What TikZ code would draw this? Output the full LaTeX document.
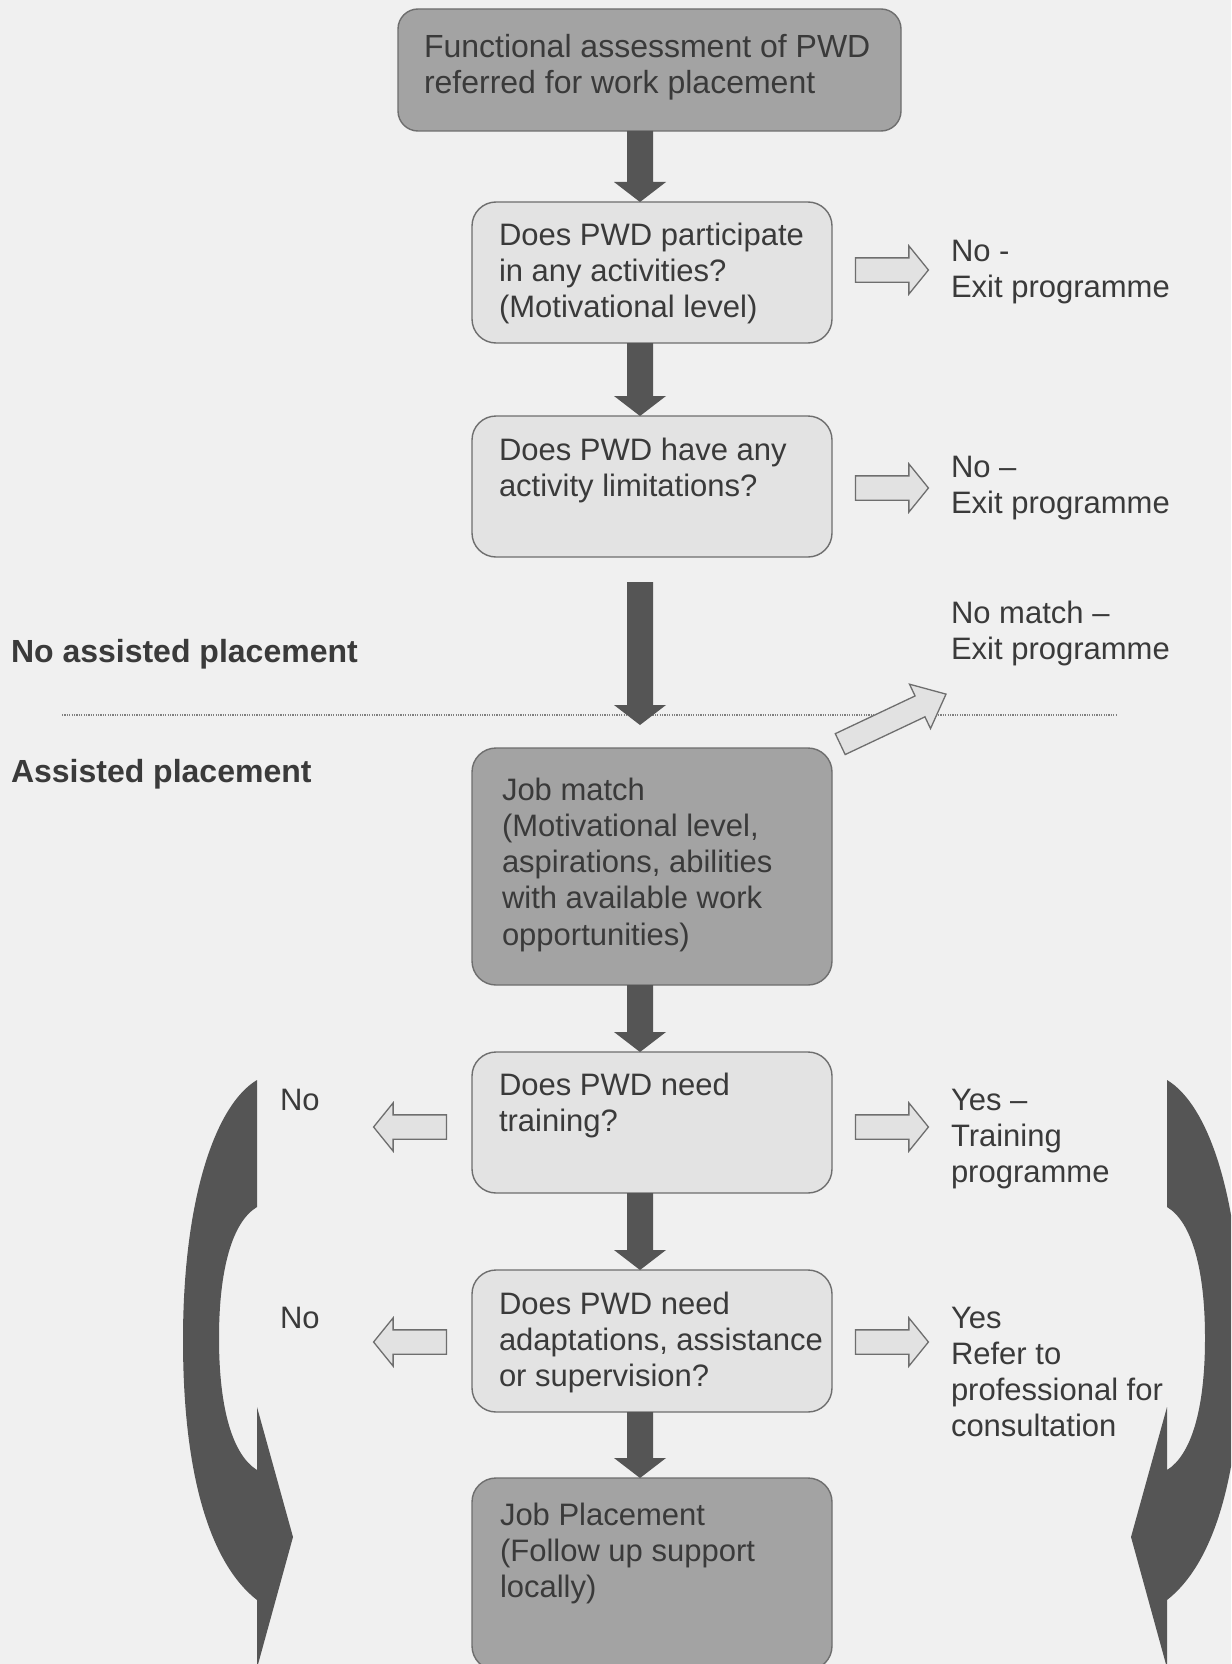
\documentclass[tikz,border=0pt]{standalone}
\usepackage{fontspec}
\setmainfont{Liberation Sans}
\usetikzlibrary{shapes.arrows,calc}
\definecolor{bgcol}{HTML}{F0F0F0}
\definecolor{darkfill}{HTML}{A3A3A3}
\definecolor{lightfill}{HTML}{E3E3E3}
\definecolor{bordercol}{HTML}{6E6E6E}
\definecolor{arrdark}{HTML}{555555}
\definecolor{txtcol}{HTML}{3A3A3A}
\definecolor{hollowfill}{HTML}{E2E2E2}
\definecolor{dotcol}{HTML}{808080}
\newcommand\ts{\rule{0pt}{23pt}}
\newcommand\blkarrow[2]{\fill[arrdark] let \p1=#1, \p2=#2 in
  (627pt,\y1) -- (653pt,\y1) -- (653pt,\y2+20pt) -- (666pt,\y2+20pt) --
  (640pt,\y2) -- (614pt,\y2+20pt) -- (627pt,\y2+20pt) -- cycle;}
\begin{document}
\begin{tikzpicture}[x=1pt,y=-1pt,
  boxbase/.style={draw=bordercol, line width=1.4pt, rounded corners=24pt,
    anchor=north west, inner sep=0pt, outer sep=0pt, minimum width=360pt},
  darkbox/.style={boxbase, fill=darkfill},
  lightbox/.style={boxbase, fill=lightfill},
  txt/.style={anchor=north west, inner sep=0pt, outer sep=0pt, align=left,
    text=txtcol, font=\fontsize{31}{36.3}\selectfont},
  headtxt/.style={txt, font=\fontsize{32}{36.3}\selectfont\bfseries},
  hollow/.style={single arrow, draw=bordercol, fill=hollowfill, line width=1.3pt,
    minimum height=73pt, minimum width=0pt, single arrow head extend=12pt,
    single arrow tip angle=102, inner xsep=0pt, inner ysep=11.5pt, outer sep=0pt},
  dotline/.style={draw=dotcol, line width=1.5pt, dash pattern=on 1.2pt off 1.2pt}
]
\useasboundingbox (0,0) rectangle (1231,1664);
\clip (0,0) rectangle (1231,1664);
\fill[bgcol] (0,0) rectangle (1231,1664);

% separator line
\coordinate (dl1) at (62,715);
\coordinate (dl2) at (1117,715);
\draw[dotline] (dl1) -- (dl2);

% boxes
\node[darkbox, minimum width=503pt, minimum height=122pt, rounded corners=20pt] (b1) at (398,9) {};
\node[lightbox, minimum height=141pt] (b2) at (472,202) {};
\node[lightbox, minimum height=141pt] (b3) at (472,416) {};
\node[darkbox, minimum height=237pt] (b4) at (472,748) {};
\node[lightbox, minimum height=141pt] (b5) at (472,1052) {};
\node[lightbox, minimum height=142pt] (b6) at (472,1270) {};
\node[darkbox, minimum height=192pt] (b7) at (472,1478) {};

% dark block arrows
\coordinate (a3s) at (640,582);
\coordinate (a3e) at (640,725);
\blkarrow{(b1.south)}{(b2.north)}
\blkarrow{(b2.south)}{(b3.north)}
\blkarrow{(a3s)}{(a3e)}
\blkarrow{(b4.south)}{(b5.north)}
\blkarrow{(b5.south)}{(b6.north)}
\blkarrow{(b6.south)}{(b7.north)}

% hollow arrows
\node[hollow] (r2) at (887,270) {};
\node[hollow] (r3) at (887,488) {};
\node[hollow] (r5) at (887,1127) {};
\node[hollow] (r6) at (887,1342) {};
\node[hollow, shape border rotate=180] (l5) at (415,1127) {};
\node[hollow, shape border rotate=180] (l6) at (415,1342) {};
\node[hollow, rotate=25.3, minimum height=117pt, inner ysep=10.9pt,
  single arrow head extend=13pt, single arrow tip angle=81] (dg) at (887,722) {};

% curved arrows
\fill[arrdark] (257,1080) .. controls (215,1105) and (183,1200) .. (183,1340)
  .. controls (183,1480) and (212,1565) .. (257,1600) -- (257,1668) -- (293,1537)
  -- (257,1407) -- (257,1470) .. controls (233,1455) and (219,1410) .. (219,1338)
  .. controls (219,1270) and (232,1222) .. (257,1207) -- cycle;
\begin{scope}[shift={(1424,0)}, xscale=-1]
\fill[arrdark] (257,1080) .. controls (215,1105) and (183,1200) .. (183,1340)
  .. controls (183,1480) and (212,1565) .. (257,1600) -- (257,1668) -- (293,1537)
  -- (257,1407) -- (257,1470) .. controls (233,1455) and (219,1410) .. (219,1338)
  .. controls (219,1270) and (232,1222) .. (257,1207) -- cycle;
\end{scope}

% box texts
\node[txt, font=\fontsize{32}{36}\selectfont] (t1) at (424,34) {\ts Functional assessment of PWD\\referred for work placement};
\node[txt] (t2) at (499,222) {\ts Does PWD participate\\in any activities?\\(Motivational level)};
\node[txt] (t3) at (499,437.5) {\ts Does PWD have any\\activity limitations?};
\node[txt] (t4) at (502,777) {\ts Job match\\(Motivational level,\\aspirations, abilities\\with available work\\opportunities)};
\node[txt] (t5) at (499,1072) {\ts Does PWD need\\training?};
\node[txt] (t6) at (499,1291) {\ts Does PWD need\\adaptations, assistance\\or supervision?};
\node[txt] (t7) at (500,1502) {\ts Job Placement\\(Follow up support\\locally)};

% side texts
\node[txt] (s2) at (951,238) {\ts No -\\Exit programme};
\node[txt] (s3) at (951,454.5) {\ts No –\\Exit programme};
\node[txt] (s4) at (951,600) {\ts No match –\\Exit programme};
\node[txt] (s5) at (951,1087) {\ts Yes –\\Training\\programme};
\node[txt] (s6) at (951,1305) {\ts Yes\\Refer to\\professional for\\consultation};
\node[txt] (n5) at (280,1087) {\ts No};
\node[txt] (n6) at (280,1305) {\ts No};

% section headings
\node[headtxt] (h1) at (11,639) {\ts No assisted placement};
\node[headtxt] (h2) at (11,759) {\ts Assisted placement};
\end{tikzpicture}
\end{document}
